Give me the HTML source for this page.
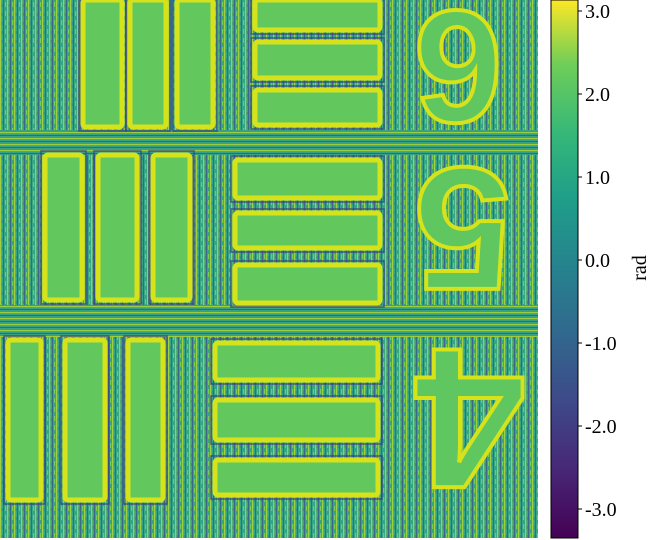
<!DOCTYPE html>
<html><head><meta charset="utf-8"><style>
html,body{margin:0;padding:0;background:#fff;width:650px;height:540px;overflow:hidden;font-family:"Liberation Serif",serif;}
</style></head><body>
<svg width="650" height="540" xmlns="http://www.w3.org/2000/svg">
<defs>
<pattern id="noise" width="7" height="9" patternUnits="userSpaceOnUse">
<rect width="7" height="9" fill="#35a585"/>
<rect x="0" y="0" width="1.3" height="9" fill="#c4df2a" opacity="0.75"/>
<rect x="3" y="0" width="1" height="9" fill="#3b4f8c" opacity="0.7"/>
<rect x="5" y="2" width="1.2" height="5" fill="#84d44b" opacity="0.8"/>
<rect x="1.5" y="4" width="1.2" height="3" fill="#2c7f8e" opacity="0.7"/>
</pattern>
<pattern id="hnoise" width="9" height="6" patternUnits="userSpaceOnUse">
<rect width="9" height="6" fill="#36a184"/>
<rect x="0" y="0" width="9" height="1.2" fill="#c9e020" opacity="0.7"/>
<rect x="0" y="3" width="9" height="1" fill="#3f4a8a" opacity="0.7"/>
</pattern>
<linearGradient id="viridis" x1="0" y1="1" x2="0" y2="0">
<stop offset="0" stop-color="#440154"/><stop offset="0.13" stop-color="#482878"/>
<stop offset="0.25" stop-color="#3e4989"/><stop offset="0.38" stop-color="#31688e"/>
<stop offset="0.5" stop-color="#26828e"/><stop offset="0.63" stop-color="#1f9e89"/>
<stop offset="0.75" stop-color="#35b779"/><stop offset="0.88" stop-color="#6ece58"/>
<stop offset="1" stop-color="#fde725"/>
</linearGradient>
</defs>
<g>
<rect x="0" y="0" width="538" height="538" fill="url(#noise)"/>
<rect x="0" y="130" width="538" height="25" fill="url(#hnoise)"/>
<rect x="0" y="305" width="538" height="32" fill="url(#hnoise)"/>
<g id="bars" stroke="#d6e21a" stroke-width="5" fill="#62c85e"></g>
<g font-family="Liberation Sans, sans-serif" font-weight="bold" fill="#5fc660" stroke="#d6e21a" stroke-width="4">
<text transform="translate(458,67) rotate(180)" font-size="160" text-anchor="middle" dominant-baseline="central">6</text>
<text transform="translate(463,228) rotate(180)" font-size="175" text-anchor="middle" dominant-baseline="central">5</text>
<text transform="translate(470,418) rotate(180)" font-size="200" text-anchor="middle" dominant-baseline="central">4</text>
</g>
</g>
<rect x="551" y="0" width="27" height="538" fill="url(#viridis)" stroke="#000" stroke-width="1"/>
<g id="cticks" font-size="20" fill="#000" font-family="Liberation Serif, serif"></g>
<text transform="translate(646,268) rotate(-90)" font-size="20" text-anchor="middle" font-family="Liberation Serif, serif">rad</text>
</svg>
<script>
const vbars=[[83,0,39,127],[130,0,36,127],[177,0,36,127],[45,155,37,145],[98,155,39,145],[153,155,37,145],[8,340,33,160],[65,340,40,160],[128,340,35,160]];
const hbars=[[255,0,125,30],[255,42,125,36],[255,90,125,35],[235,160,145,38],[235,213,145,35],[235,265,145,38],[215,343,163,37],[215,400,163,40],[215,460,163,35]];
const tickValues=[3,2,1,0,-1,-2,-3];
const tickLabels=["3.0","2.0","1.0","0.0","-1.0","-2.0","-3.0"];
const ns="http://www.w3.org/2000/svg";
const g=document.getElementById('bars');
vbars.concat(hbars).forEach((b,i)=>{
 const o=document.createElementNS(ns,'rect');
 o.setAttribute('x',b[0]-4);o.setAttribute('y',b[1]-4);o.setAttribute('width',b[2]+8);o.setAttribute('height',b[3]+8);
 o.setAttribute('fill','none');o.setAttribute('stroke','#3b3f85');o.setAttribute('stroke-width','1.5');o.setAttribute('opacity','0.8');
 
 
 g.appendChild(o);
 const r=document.createElementNS(ns,'rect');
 r.setAttribute('x',b[0]);r.setAttribute('y',b[1]);r.setAttribute('width',b[2]);r.setAttribute('height',b[3]);r.setAttribute('rx',3);
 
 
 g.appendChild(r);
});
const yOf=v=>260-v*83;
const t=document.getElementById('cticks');
tickValues.forEach((v,i)=>{
 const l=document.createElementNS(ns,'line');
 l.setAttribute('x1',578);l.setAttribute('x2',582);l.setAttribute('y1',yOf(v));l.setAttribute('y2',yOf(v));l.setAttribute('stroke','#000');
 
 
 t.appendChild(l);
 const tx=document.createElementNS(ns,'text');
 tx.setAttribute('x',585);tx.setAttribute('y',yOf(v)+7);tx.textContent=tickLabels[i];
 
 
 t.appendChild(tx);
});
</script>
</body></html>
